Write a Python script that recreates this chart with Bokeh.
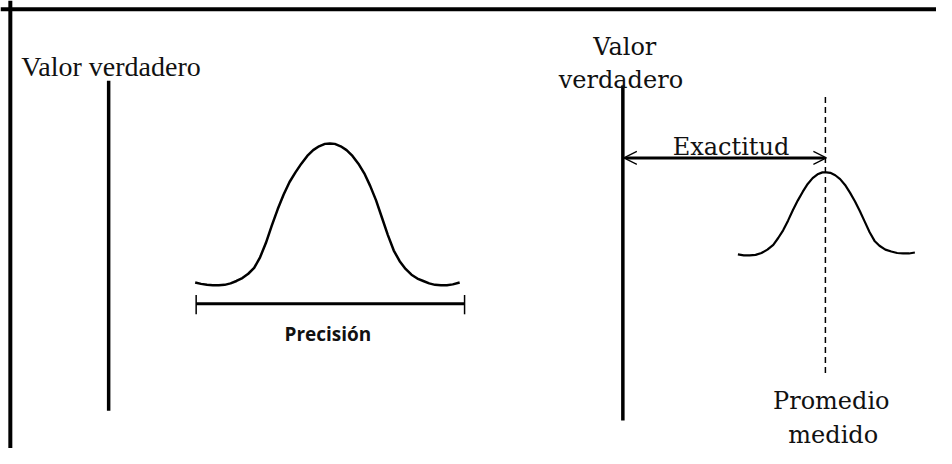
from bokeh.plotting import figure
from bokeh.models import Range1d, Span, Arrow, OpenHead
from bokeh.core.properties import value
from bokeh.embed import file_html
from bokeh.resources import INLINE

# ---- data (in reference-pixel units, 952 x 464 sheet) ----
# left panel: true value line, precise distribution, precision bar
true_left_x = [110, 110]
true_left_y = [83, 425]

curve_left_x = [198, 204, 210, 216, 222, 228, 234, 240, 246, 252, 258, 264, 270, 276, 282, 288,
                294, 300, 306, 312, 318, 324, 330, 335, 340, 346, 352, 358, 364, 370, 376, 382,
                388, 394, 400, 406, 412, 418, 424, 430, 436, 442, 448, 454, 460, 467]
curve_left_y = [292, 293.5, 294.5, 295, 295, 294.5, 293, 290.5, 287.5, 283, 277, 266, 251, 233,
                216, 201, 188, 178, 169, 161, 155, 151, 148.5, 148, 148.5, 151, 155, 161, 169,
                179, 192, 207, 225, 243, 259, 270, 278, 284, 288, 290.5, 293, 294.5, 295, 295,
                294, 292]

prec_x = [199, 472]
prec_y = 314
prec_tick_y = [305, 325]

# right panel: true value line, accuracy arrow, measured mean, biased distribution
true_right_x = [633, 633]
true_right_y = [88, 435]

exact_x = [634, 840]
exact_y = 163

mean_x = [839, 839]
mean_y = [100, 390]

curve_right_x = [750, 756, 762, 768, 774, 780, 786, 791, 796, 801, 806, 811, 816, 821, 826, 831,
                 836, 840, 844, 849, 854, 859, 864, 869, 874, 879, 884, 889, 894, 900, 906, 912,
                 918, 924, 930]
curve_right_y = [263, 264, 264, 263.5, 261.5, 258, 253, 246, 238, 228, 217, 207, 198, 190, 184,
                 180, 178, 178, 178.5, 181, 185, 191, 199, 208, 218, 229, 240, 249, 254, 258, 260,
                 261.5, 262, 262, 261]

label_left = ["Valor verdadero"]
label_prec = ["Precisión"]
labels_right = ["Valor", "verdadero", "Exactitud", "Promedio", "medido"]

W, H = 936, 448
p = figure(width=W, height=H, output_backend="svg", toolbar_location=None,
           x_range=Range1d(0, 952), y_range=Range1d(464, 0),
           min_border=0, min_border_left=0, min_border_right=0,
           min_border_top=0, min_border_bottom=0)
p.axis.visible = False
p.grid.visible = False
p.outline_line_color = None
p.background_fill_color = "white"
p.border_fill_color = "white"

# sheet border (only left and top edges are visible in the crop)
p.add_layout(Span(location=10, dimension="height", line_color="black", line_width=4))
p.add_layout(Span(location=9, dimension="width", line_color="black", line_width=4))

# left panel
p.line(true_left_x, true_left_y, line_color="black", line_width=3.5)
p.line(curve_left_x, curve_left_y, line_color="black", line_width=2.5, line_join="round")
p.line(prec_x, [prec_y, prec_y], line_color="black", line_width=3)
for xx in prec_x:
    p.line([xx, xx], prec_tick_y, line_color="black", line_width=1.5)

p.text(x=[21], y=[68], text=label_left, text_font=value("Liberation Serif"),
       text_font_size="28px", text_align="left", text_baseline="alphabetic", text_color="#111111")

p.text(x=[333], y=[345], text=label_prec, text_font=value("Open Sans"),
       text_font_style="bold", text_font_size="19px", text_align="center",
       text_baseline="alphabetic", text_color="#111111")

# right panel
p.line(true_right_x, true_right_y, line_color="black", line_width=3.5)
p.line(mean_x, mean_y, line_color="black", line_width=1.5, line_dash="6 4")
p.line(curve_right_x, curve_right_y, line_color="black", line_width=2.2, line_join="round")
p.add_layout(Arrow(start=OpenHead(size=13, line_width=1.2, line_color="black"),
                   end=OpenHead(size=13, line_width=1.2, line_color="black"),
                   x_start=exact_x[0], y_start=exact_y, x_end=exact_x[1], y_end=exact_y,
                   line_width=3, line_color="black"))

rx = [635, 631, 743, 845, 847]
ry = [48, 82, 152, 415, 450]
p.text(x=rx, y=ry, text=labels_right, text_font=value("DejaVu Serif"),
       text_font_size="24px", text_align="center", text_baseline="alphabetic", text_color="#111111")

open("out.html", "w").write(file_html(p, INLINE))
